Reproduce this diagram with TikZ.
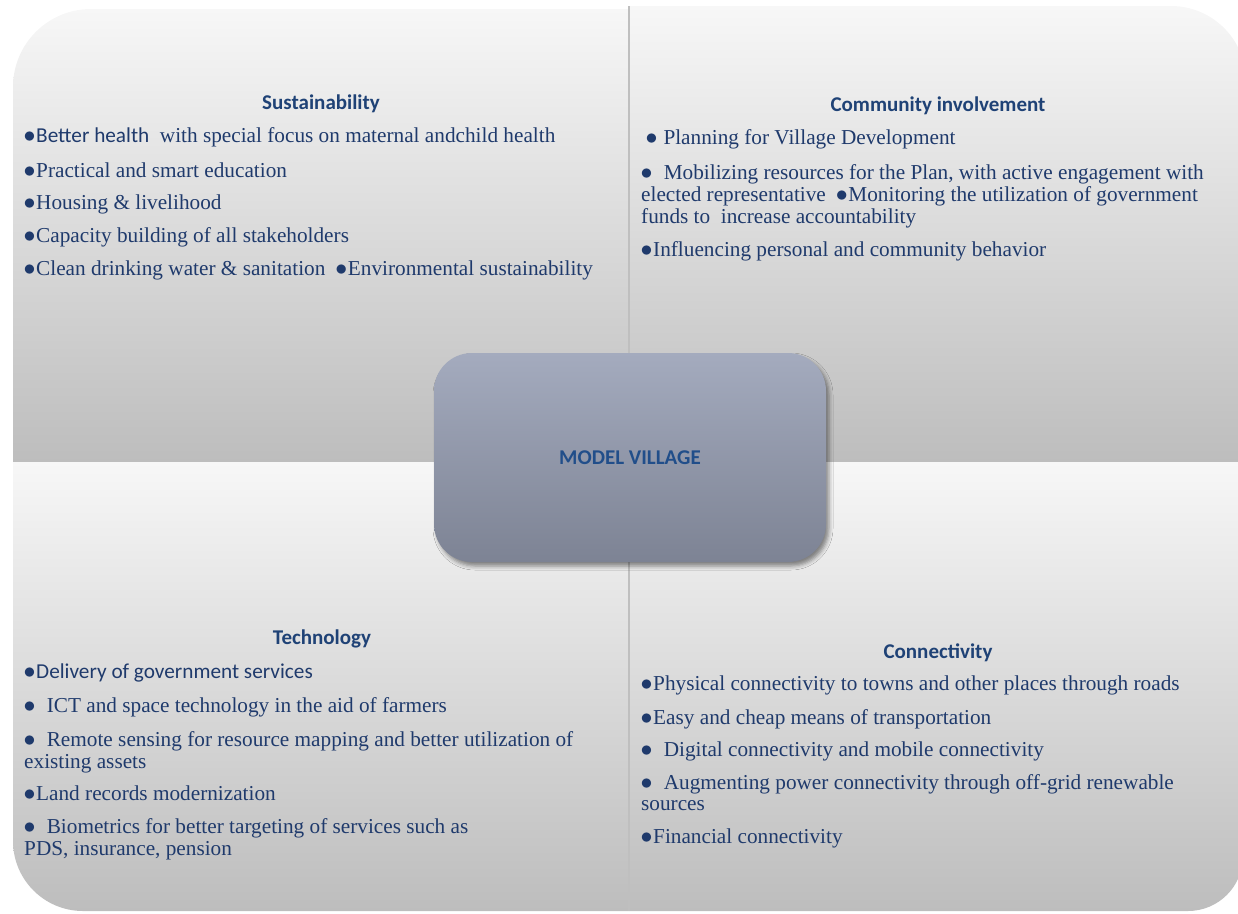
\documentclass[tikz,border=0pt]{standalone}
\usepackage{fontspec}
\usepackage{graphicx}
\setmainfont{Liberation Serif}
\newfontfamily\calibri{Carlito}
\usetikzlibrary{shadows,shadows.blur,positioning}
\definecolor{paneltop}{RGB}{247,247,247}
\definecolor{panelbot}{RGB}{189,189,189}
\definecolor{hubtop}{RGB}{164,171,190}
\definecolor{hubbot}{RGB}{125,131,148}
\definecolor{hubblue}{RGB}{33,78,138}
\definecolor{headblue}{RGB}{31,66,118}
\definecolor{itemblue}{RGB}{31,58,108}
\newcommand{\bul}{\makebox[12pt][l]{\hspace*{-0.5pt}\scalebox{1.15}{$\bullet$}}}

\begin{document}
\begin{tikzpicture}[x=1pt, y=-1pt,
    panel/.style={top color=paneltop, bottom color=panelbot},
    divider/.style={draw=black!25, line width=1.5pt},
    hub/.style={rounded corners=38pt, minimum width=392pt, minimum height=209pt,
        top color=hubtop, bottom color=hubbot, text=hubblue,
        font=\calibri\bfseries\fontsize{21}{24}\selectfont,
        blur shadow={shadow xshift=3pt, shadow yshift=-4pt, shadow blur radius=4pt, shadow opacity=45}},
    head/.style={anchor=base, inner sep=0pt, text=headblue,
        font=\calibri\bfseries\fontsize{21}{24}\selectfont},
    item/.style={anchor=base west, inner sep=0pt, align=left, text=itemblue,
        font=\fontsize{21.25}{21.7}\selectfont},
    itemsans/.style={item, font=\calibri\fontsize{21.25}{21.7}\selectfont}]
    \useasboundingbox (0,0) rectangle (1238,913);

    \shade[panel] (629,462) -- (13,462) -- (13,87) arc[start angle=180, end angle=270, radius=78] -- (629,9) -- cycle;
    \shade[panel] (629,6) -- (1171,6) arc[start angle=270, end angle=360, radius=75] -- (1246,462) -- (629,462) -- cycle;
    \shade[panel] (13,462) -- (629,462) -- (629,911) -- (83,911) arc[start angle=90, end angle=180, radius=70] -- cycle;
    \shade[panel] (629,462) -- (1243,462) -- (1243,856) arc[start angle=0, end angle=90, radius=55] -- (629,911) -- cycle;
    \draw[divider] (629,6) -- (629,911);

    \node[head] (sustHead) at (321,109) {Sustainability};
    \node[item] (sust1) at (24,142.3) {{\calibri\bul Better health}\ \ with special focus on maternal andchild health};
    \node[item] (sust2) at (24,177.3) {\bul Practical and smart education};
    \node[item] (sust3) at (24,209) {\bul Housing \& livelihood};
    \node[item] (sust4) at (24,242.3) {\bul Capacity building of all stakeholders};
    \node[item] (sust5) at (24,275.7) {\bul Clean drinking water \& sanitation\ \ \bul Environmental sustainability};

    \node[head] (commHead) at (938,111) {Community involvement};
    \node[item] (comm1) at (641,144.3) {\hspace*{5pt}\bul\ Planning for Village Development};
    \node[item] (comm2) at (641,223.3) {\bul\ \ Mobilizing resources for the Plan, with active engagement with\\
        elected representative\ \ \bul Monitoring the utilization of government\\
        funds to\ \ increase accountability};
    \node[item] (comm3) at (641,256) {\bul Influencing personal and community behavior};

    \node[head] (techHead) at (322,644.3) {Technology};
    \node[itemsans] (tech1) at (24,678.3) {\bul Delivery of government services};
    \node[item] (tech2) at (24,712.7) {\bul\ \ ICT and space technology in the aid of farmers};
    \node[item] (tech3) at (24,768.3) {\bul\ \ Remote sensing for resource mapping and better utilization of\\
        existing assets};
    \node[item] (tech4) at (24,800.7) {\bul Land records modernization};
    \node[item] (tech5) at (24,855) {\bul\ \ Biometrics for better targeting of services such as\\
        PDS, insurance, pension};

    \node[head] (connHead) at (938,658.3) {Connectivity};
    \node[item] (conn1) at (641,690.7) {\bul Physical connectivity to towns and other places through roads};
    \node[item] (conn2) at (641,724) {\bul Easy and cheap means of transportation};
    \node[item] (conn3) at (641,756.7) {\bul\ \ Digital connectivity and mobile connectivity};
    \node[item] (conn4) at (641,810.7) {\bul\ \ Augmenting power connectivity through off-grid renewable\\
        sources};
    \node[item] (conn5) at (641,843.3) {\bul Financial connectivity};

    \node[hub] (village) at (630,457.5) {MODEL VILLAGE};
\end{tikzpicture}
\end{document}
